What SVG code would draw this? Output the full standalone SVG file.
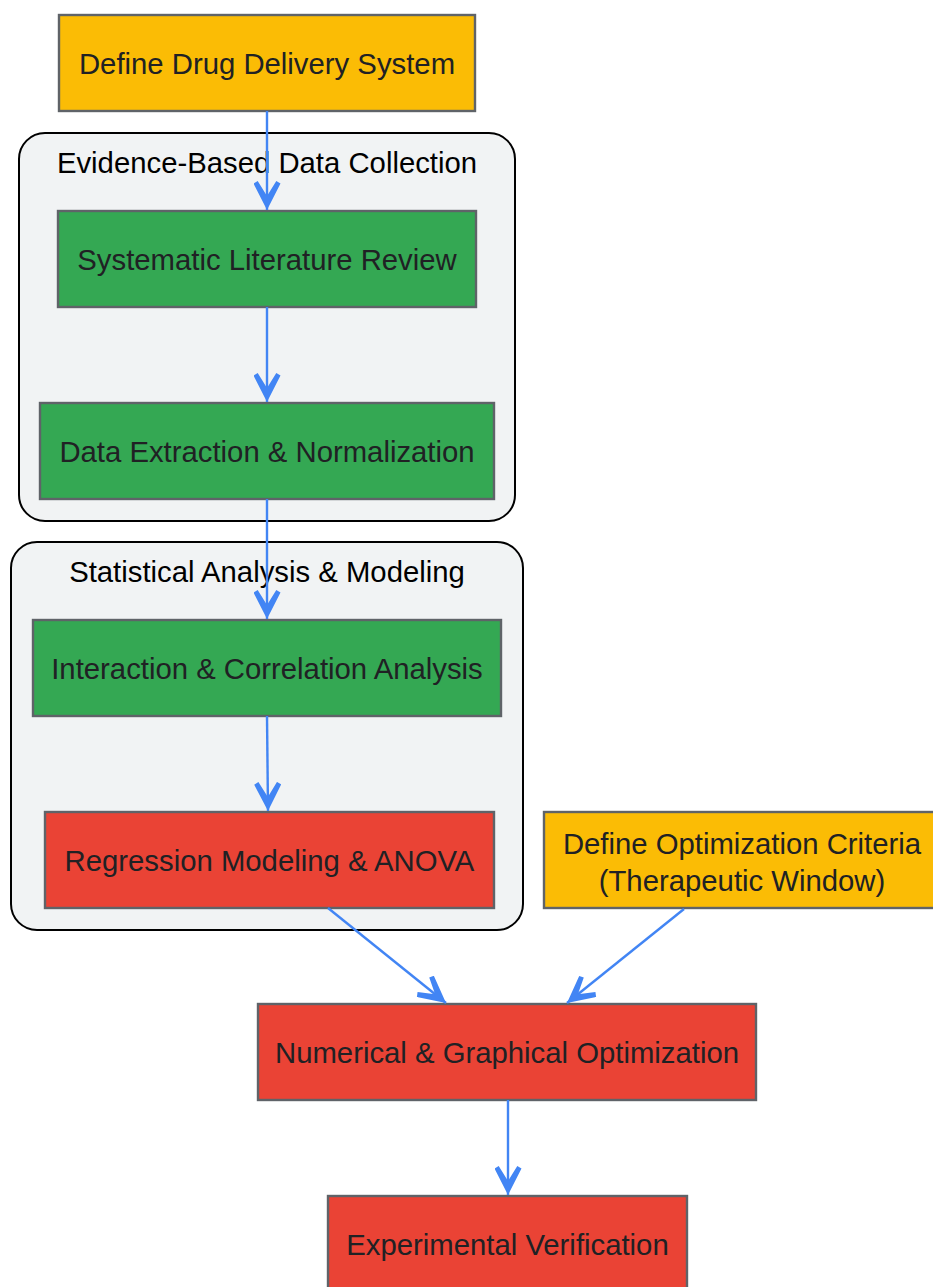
<svg xmlns="http://www.w3.org/2000/svg" width="933" height="1287" viewBox="0 0 933 1287">
<style>
.cluster{fill:#f1f3f4;stroke:#000;stroke-width:2}
.ctitle{font-family:"Liberation Sans",Arial,sans-serif;font-size:29.3px;fill:#000;text-anchor:middle}
.node rect{stroke:#5f6368;stroke-width:2.4}
.node text{font-family:"Liberation Sans",Arial,sans-serif;font-size:29.3px;fill:#202124;text-anchor:middle}
.y rect{fill:#fbbc05}
.g rect{fill:#34a853}
.r rect{fill:#ea4335}
.edge{stroke:#4285f4;stroke-width:2.4;fill:none;marker-end:url(#ah)}
</style>
<defs>
<marker id="ah" viewBox="0 0 29 27" refX="29" refY="13.5" markerWidth="29" markerHeight="27" markerUnits="userSpaceOnUse" orient="auto">
<path d="M29,13.5 L2.5,0 L0,4.2 L15,13.5 L0,22.8 L2.5,27 Z" fill="#4285f4"/>
</marker>
</defs>
<rect width="933" height="1287" fill="#fff"/>
<g id="cluster-evidence">
<rect class="cluster" x="19" y="133" width="496" height="388" rx="26"/>
<text class="ctitle" x="267" y="172.5">Evidence-Based Data Collection</text>
</g>
<g id="cluster-statistical">
<rect class="cluster" x="11" y="542" width="512" height="388" rx="26"/>
<text class="ctitle" x="267" y="581.5">Statistical Analysis &amp; Modeling</text>
</g>
<g id="n-define" class="node y">
<rect x="59" y="15" width="416" height="96"/>
<text x="267" y="73.5">Define Drug Delivery System</text>
</g>
<g id="n-review" class="node g">
<rect x="58" y="211" width="418" height="96"/>
<text x="267" y="269.5">Systematic Literature Review</text>
</g>
<g id="n-extract" class="node g">
<rect x="40" y="403" width="454" height="96"/>
<text x="267" y="461.5">Data Extraction &amp; Normalization</text>
</g>
<g id="n-interaction" class="node g">
<rect x="33" y="620" width="468" height="96"/>
<text x="267" y="678.5">Interaction &amp; Correlation Analysis</text>
</g>
<g id="n-regression" class="node r">
<rect x="45" y="812" width="449" height="96"/>
<text x="269.5" y="870.5">Regression Modeling &amp; ANOVA</text>
</g>
<g id="n-criteria" class="node y">
<rect x="544" y="812" width="396" height="96"/>
<text x="742" y="853.5">Define Optimization Criteria</text>
<text x="742" y="890.5">(Therapeutic Window)</text>
</g>
<g id="n-optimization" class="node r">
<rect x="258" y="1004" width="498" height="96"/>
<text x="507" y="1062.5">Numerical &amp; Graphical Optimization</text>
</g>
<g id="n-verification" class="node r">
<rect x="328" y="1196" width="359" height="96"/>
<text x="507.5" y="1254.5">Experimental Verification</text>
</g>
<g id="connectors">
<path class="edge" d="M267,111 L267,210"/>
<path class="edge" d="M267,307 L267,402"/>
<path class="edge" d="M267,499 L267,619"/>
<path class="edge" d="M267,716 L268,811"/>
<path class="edge" d="M328,908 L446,1003"/>
<path class="edge" d="M684,909 L567,1003"/>
<path class="edge" d="M508,1100 L508,1195"/>
</g>
</svg>
